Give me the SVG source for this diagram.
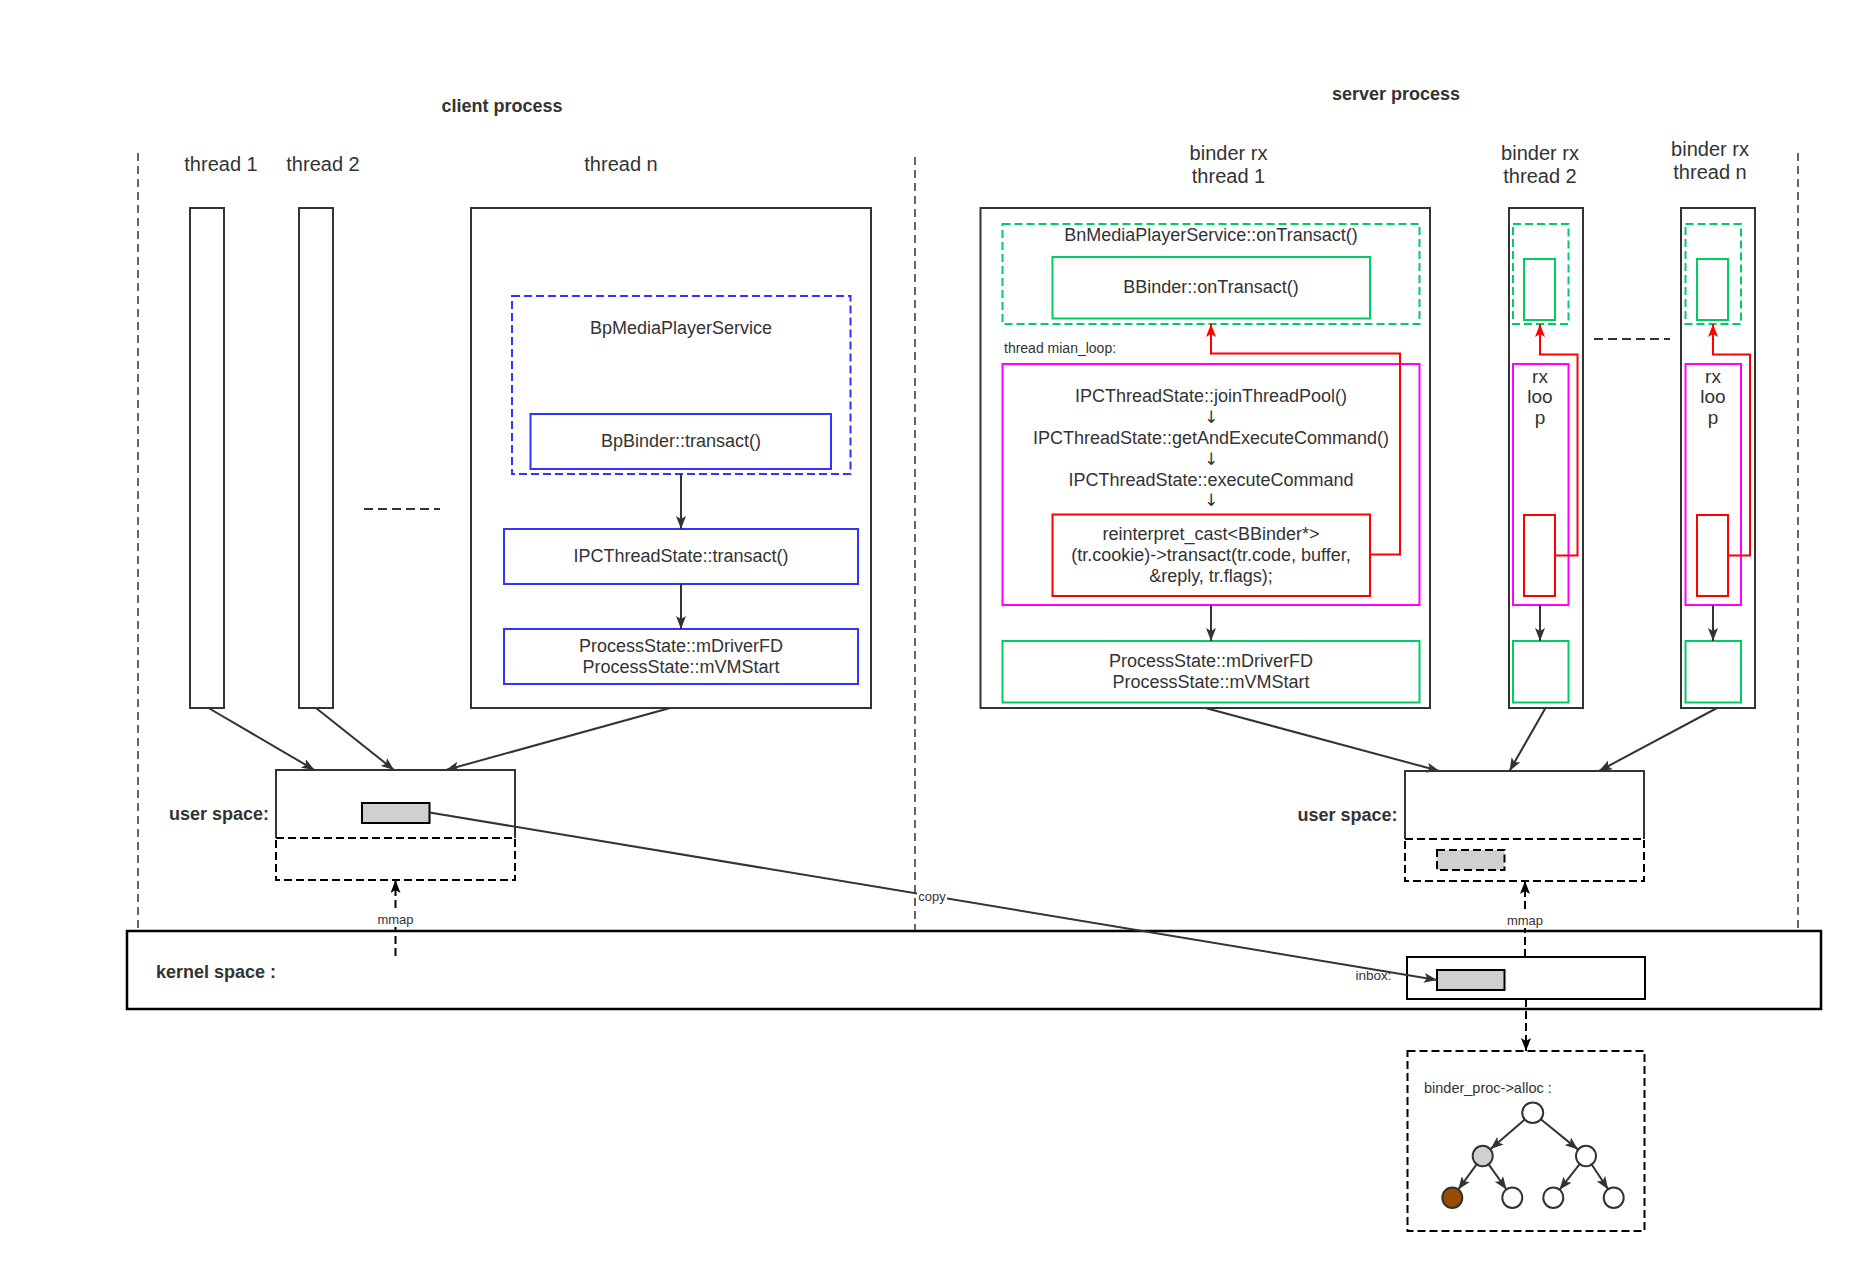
<svg xmlns="http://www.w3.org/2000/svg" width="1852" height="1262" viewBox="0 0 1852 1262">
<style>
text{font-family:"Liberation Sans",Arial,sans-serif;fill:#333;dominant-baseline:central;text-anchor:middle}
.b{font-weight:bold;font-size:18px}
.l20{font-size:20px}
.m18{font-size:18px}
.arw{font-family:"DejaVu Sans",sans-serif;font-size:17px}
.s13{font-size:13px}
.s14{font-size:14px}
.frame{fill:#fff;stroke:#333;stroke-width:2}
.div{fill:none;stroke:#333;stroke-width:1.5;stroke-dasharray:8 5}
.blue{fill:#fff;stroke:#3333ff;stroke-width:2}
.blued{fill:none;stroke:#3333ff;stroke-width:2;stroke-dasharray:8 4}
.green{fill:#fff;stroke:#00cc66;stroke-width:2}
.greend{fill:none;stroke:#00cc66;stroke-width:2;stroke-dasharray:8 4}
.mag{fill:none;stroke:#ff00ff;stroke-width:2}
.red{fill:#fff;stroke:#ff0000;stroke-width:2}
.redl{fill:none;stroke:#ff0000;stroke-width:2}
.con{fill:none;stroke:#333;stroke-width:2}
.dk{fill:none;stroke:#000;stroke-width:2;stroke-dasharray:8 4}
.gray{fill:#d0d0d0;stroke:#000;stroke-width:2}
.grayd{fill:#d0d0d0;stroke:#000;stroke-width:2;stroke-dasharray:8 4}
.nd{fill:#fff;stroke:#333;stroke-width:2}
</style>
<defs>
<marker id="a" markerUnits="userSpaceOnUse" markerWidth="13" markerHeight="10" refX="13" refY="5" orient="auto"><path d="M0,0 L13,5 L0,10 L3,5 z" fill="#333"/></marker>
<marker id="ar" markerUnits="userSpaceOnUse" markerWidth="13" markerHeight="10" refX="13" refY="5" orient="auto"><path d="M0,0 L13,5 L0,10 L3,5 z" fill="#ff0000"/></marker>
<marker id="ak" markerUnits="userSpaceOnUse" markerWidth="13" markerHeight="10" refX="13" refY="5" orient="auto"><path d="M0,0 L13,5 L0,10 L3,5 z" fill="#000"/></marker>
</defs>
<rect width="1852" height="1262" fill="#fff"/>

<g id="dividers">
<line class="div" x1="138" y1="153" x2="138" y2="931"/>
<line class="div" x1="915" y1="157" x2="915" y2="931"/>
<line class="div" x1="1798" y1="153" x2="1798" y2="931"/>
</g>

<g id="titles">
<text class="b" x="502" y="106">client process</text>
<text class="b" x="1396" y="94">server process</text>
</g>

<g id="client-thread1">
<text class="l20" x="221" y="164">thread 1</text>
<rect class="frame" x="190" y="208" width="34" height="500"/>
</g>
<g id="client-thread2">
<text class="l20" x="323" y="164">thread 2</text>
<rect class="frame" x="299" y="208" width="34" height="500"/>
</g>
<line id="client-dots" x1="364" y1="509" x2="440" y2="509" stroke="#333" stroke-width="2" stroke-dasharray="9 5"/>
<g id="client-threadn">
<text class="l20" x="621" y="164">thread n</text>
<rect class="frame" x="471" y="208" width="400" height="500"/>
</g>
<g id="bp-media">
<rect class="blued" x="512" y="296" width="338.5" height="178"/>
<text class="m18" x="681" y="328">BpMediaPlayerService</text>
</g>
<g id="bp-binder">
<rect class="blue" x="530.5" y="414" width="300.5" height="55"/>
<text class="m18" x="681" y="441">BpBinder::transact()</text>
</g>
<g id="ipc-transact">
<rect class="blue" x="504" y="529" width="354" height="55"/>
<text class="m18" x="681" y="556">IPCThreadState::transact()</text>
</g>
<g id="client-ps">
<rect class="blue" x="504" y="629" width="354" height="55"/>
<text class="m18" x="681" y="646">ProcessState::mDriverFD</text>
<text class="m18" x="681" y="666.5">ProcessState::mVMStart</text>
</g>

<g id="server-thread1">
<text class="l20" x="1228.5" y="153">binder rx</text>
<text class="l20" x="1228.5" y="176">thread 1</text>
<rect class="frame" x="980.5" y="208" width="449.5" height="500"/>
</g>
<g id="bn-media">
<rect class="greend" x="1002.5" y="224" width="417" height="100"/>
<text class="m18" x="1211" y="235">BnMediaPlayerService::onTransact()</text>
</g>
<g id="bbinder">
<rect class="green" x="1052.5" y="257" width="317.5" height="61.5"/>
<text class="m18" x="1211" y="287">BBinder::onTransact()</text>
</g>
<text class="s14" x="1004" y="347.5" style="text-anchor:start">thread mian_loop:</text>
<g id="main-loop">
<rect class="mag" x="1002.5" y="364" width="417" height="241"/>
<text class="m18" x="1211" y="396">IPCThreadState::joinThreadPool()</text>
<text class="arw" x="1211" y="417">↓</text>
<text class="m18" x="1211" y="438">IPCThreadState::getAndExecuteCommand()</text>
<text class="arw" x="1211" y="458.5">↓</text>
<text class="m18" x="1211" y="479.5">IPCThreadState::executeCommand</text>
<text class="arw" x="1211" y="500">↓</text>
</g>
<g id="reinterpret">
<rect class="red" x="1052.5" y="514.5" width="317.5" height="81.5"/>
<text class="m18" x="1211" y="534">reinterpret_cast&lt;BBinder*&gt;</text>
<text class="m18" x="1211" y="555">(tr.cookie)-&gt;transact(tr.code, buffer,</text>
<text class="m18" x="1211" y="576">&amp;reply, tr.flags);</text>
</g>
<g id="server-ps">
<rect class="green" x="1002.5" y="641" width="417" height="61.5"/>
<text class="m18" x="1211" y="661">ProcessState::mDriverFD</text>
<text class="m18" x="1211" y="681.5">ProcessState::mVMStart</text>
</g>

<g id="server-thread2">
<text class="l20" x="1540" y="153">binder rx</text>
<text class="l20" x="1540" y="176">thread 2</text>
<rect class="frame" x="1509" y="208" width="74" height="500"/>
<rect class="greend" x="1513" y="224" width="55.5" height="100"/>
<rect class="green" x="1524" y="259" width="31" height="61"/>
<rect class="mag" x="1513" y="364" width="55.5" height="241"/>
<text class="m18" x="1540" y="376" style="font-size:19px">rx</text>
<text class="m18" x="1540" y="396.5" style="font-size:19px">loo</text>
<text class="m18" x="1540" y="417.5" style="font-size:19px">p</text>
<rect class="red" x="1524" y="515" width="31" height="81"/>
<rect class="green" x="1513" y="641" width="55.5" height="61.5"/>
</g>
<line id="server-dots" x1="1594" y1="339" x2="1670" y2="339" stroke="#333" stroke-width="2" stroke-dasharray="9 5"/>
<g id="server-threadn">
<text class="l20" x="1710" y="149">binder rx</text>
<text class="l20" x="1710" y="172">thread n</text>
<rect class="frame" x="1681" y="208" width="74" height="500"/>
<rect class="greend" x="1685.5" y="224" width="55.5" height="100"/>
<rect class="green" x="1697" y="259" width="31" height="61"/>
<rect class="mag" x="1685.5" y="364" width="55.5" height="241"/>
<text class="m18" x="1713" y="376" style="font-size:19px">rx</text>
<text class="m18" x="1713" y="396.5" style="font-size:19px">loo</text>
<text class="m18" x="1713" y="417.5" style="font-size:19px">p</text>
<rect class="red" x="1697" y="515" width="31" height="81"/>
<rect class="green" x="1685.5" y="641" width="55.5" height="61.5"/>
</g>

<g id="kernel">
<rect x="127" y="931" width="1694" height="78" fill="#fff" stroke="#000" stroke-width="2.5"/>
<text class="b" x="156" y="972" style="text-anchor:start">kernel space :</text>
</g>

<g id="client-user">
<text class="b" x="269" y="814" style="text-anchor:end">user space:</text>
<path d="M276,838 V770 H515 V838" fill="#fff" stroke="#333" stroke-width="2"/>
<rect class="dk" x="276" y="838" width="239" height="42" fill="#fff"/>
<rect class="gray" x="362" y="803" width="67.5" height="20"/>
</g>

<g id="server-user">
<text class="b" x="1397.5" y="815" style="text-anchor:end">user space:</text>
<path d="M1405,839 V771 H1644 V839" fill="#fff" stroke="#333" stroke-width="2"/>
<rect class="dk" x="1405" y="839" width="239" height="42" fill="#fff"/>
<rect class="grayd" x="1437" y="850" width="67.5" height="20"/>
</g>

<g id="inbox">
<rect x="1407" y="957" width="238" height="42" fill="#fff" stroke="#000" stroke-width="2"/>
<rect class="gray" x="1437" y="970" width="67.5" height="20"/>
<text class="s13" x="1373.5" y="975" style="font-size:13.5px">inbox:</text>
</g>

<g id="alloc">
<rect class="dk" x="1407.5" y="1051" width="237" height="180" fill="#fff"/>
<text class="s14" x="1424" y="1088" style="text-anchor:start;font-size:14.5px">binder_proc-&gt;alloc :</text>
<ellipse class="nd" cx="1532.7" cy="1112.7" rx="10.5" ry="10.3"/>
<ellipse class="nd" cx="1482.7" cy="1156" rx="10" ry="10.3" style="fill:#d0d0d0"/>
<ellipse class="nd" cx="1586" cy="1156" rx="10" ry="10.3"/>
<ellipse class="nd" cx="1452.3" cy="1197.7" rx="10" ry="10.3" style="fill:#994c00"/>
<ellipse class="nd" cx="1512.3" cy="1197.7" rx="10" ry="10.3"/>
<ellipse class="nd" cx="1553.3" cy="1197.7" rx="10" ry="10.3"/>
<ellipse class="nd" cx="1613.7" cy="1197.7" rx="10" ry="10.3"/>
</g>

<g id="connectors">
<line class="con" x1="681" y1="474" x2="681" y2="529" marker-end="url(#a)"/>
<line class="con" x1="681" y1="584" x2="681" y2="629" marker-end="url(#a)"/>
<line class="con" x1="208.5" y1="708" x2="314.5" y2="770" marker-end="url(#a)"/>
<line class="con" x1="316" y1="708" x2="394" y2="770" marker-end="url(#a)"/>
<line class="con" x1="670" y1="708" x2="446" y2="770" marker-end="url(#a)"/>
<line class="con" x1="1205.5" y1="708" x2="1439.5" y2="771" marker-end="url(#a)"/>
<line class="con" x1="1545.5" y1="708" x2="1509.5" y2="771" marker-end="url(#a)"/>
<line class="con" x1="1717" y1="708" x2="1599" y2="771" marker-end="url(#a)"/>
<line class="con" x1="1211" y1="605" x2="1211" y2="641" marker-end="url(#a)"/>
<line class="con" x1="1540" y1="605" x2="1540" y2="641" marker-end="url(#a)"/>
<line class="con" x1="1713" y1="605" x2="1713" y2="641" marker-end="url(#a)"/>
<polyline class="redl" points="1370,554.5 1400,554.5 1400,353.5 1211,353.5 1211,324" marker-end="url(#ar)"/>
<polyline class="redl" points="1555,555.5 1577.5,555.5 1577.5,354.5 1540,354.5 1540,324" marker-end="url(#ar)"/>
<polyline class="redl" points="1728,555.5 1750,555.5 1750,354.5 1713,354.5 1713,324" marker-end="url(#ar)"/>
<line x1="395.5" y1="956" x2="395.5" y2="880" stroke="#000" stroke-width="2" stroke-dasharray="8 4" marker-end="url(#ak)"/>
<rect x="376" y="911" width="39" height="16" fill="#fff"/>
<text class="s13" x="395.5" y="919">mmap</text>
<line x1="1525" y1="957" x2="1525" y2="881" stroke="#000" stroke-width="2" stroke-dasharray="8 4" marker-end="url(#ak)"/>
<rect x="1505.5" y="912" width="39" height="16" fill="#fff"/>
<text class="s13" x="1525" y="920">mmap</text>
<line x1="1526" y1="999" x2="1526" y2="1051" stroke="#000" stroke-width="2" stroke-dasharray="8 4" marker-end="url(#ak)"/>
<line class="con" x1="429.5" y1="812.5" x2="1437" y2="980" marker-end="url(#a)"/>
<rect x="917" y="889" width="30" height="15" fill="#fff"/>
<text class="s13" x="932" y="896">copy</text>
<line class="con" x1="1524.8" y1="1119.6" x2="1490.6" y2="1149.1" marker-end="url(#a)"/>
<line class="con" x1="1540.8" y1="1119.3" x2="1577.9" y2="1149.4" marker-end="url(#a)"/>
<line class="con" x1="1476.8" y1="1164.1" x2="1458.2" y2="1189.6" marker-end="url(#a)"/>
<line class="con" x1="1488.5" y1="1164.2" x2="1506.5" y2="1189.5" marker-end="url(#a)"/>
<line class="con" x1="1579.8" y1="1163.9" x2="1559.5" y2="1189.8" marker-end="url(#a)"/>
<line class="con" x1="1591.5" y1="1164.3" x2="1608.2" y2="1189.4" marker-end="url(#a)"/>
</g>
</svg>
